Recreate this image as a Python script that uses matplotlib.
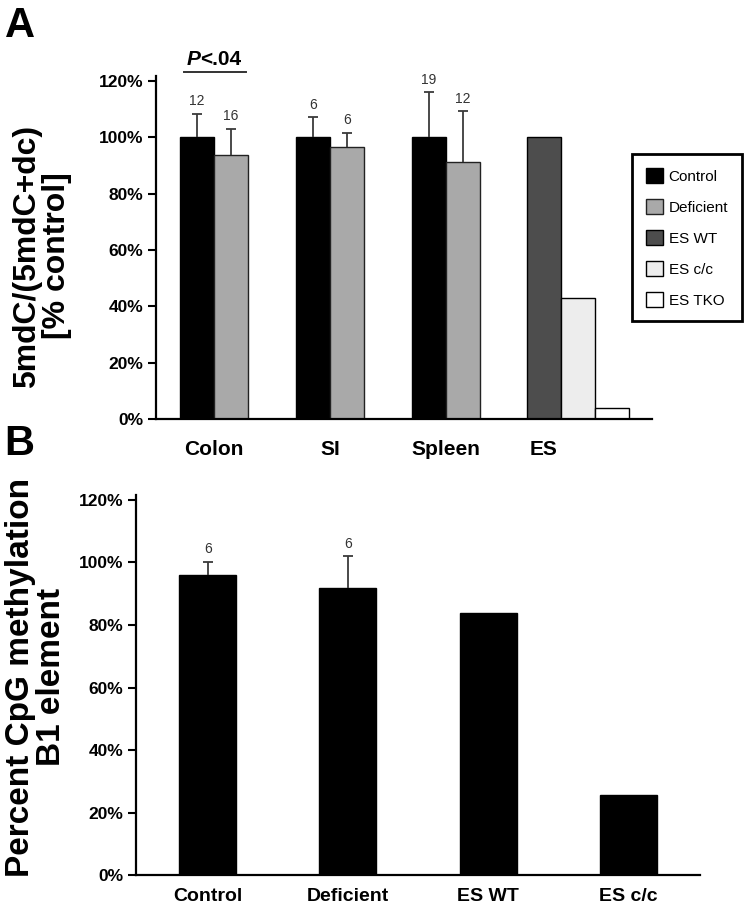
import matplotlib
matplotlib.use('Agg')
import matplotlib.pyplot as plt
import numpy as np

plt.rcParams['font.family'] = ['Liberation Sans', 'DejaVu Sans']

# panel A: global methylation, % of control
tissues = ['Colon', 'SI', 'Spleen']
ctrl_a = [100, 100, 100]
ctrl_a_err = [8.2, 7.1, 16.0]
ctrl_a_n = ['12', '6', '19']
def_a = [93.5, 96.4, 91.2]
def_a_err = [9.4, 5.2, 18.0]
def_a_n = ['16', '6', '12']
es_names = ['ES WT', 'ES c/c', 'ES TKO']
es_a = [100, 43, 3.8]

# panel B: CpG methylation of B1 element
groups_b = ['Control', 'Deficient', 'ES WT', 'ES c/c']
vals_b = [96.0, 92.0, 84.0, 25.5]
err_b = [4.2, 10.0, 0, 0]
n_b = ['6', '6', '', '']

c_ctrl, c_def = '#000000', '#a9a9a9'
es_colors = ['#4d4d4d', '#ededed', '#ffffff']
ecol = '#3a3a3a'

fig = plt.figure(figsize=(7.5, 9.13), dpi=100)

def style(ax, ylim):
    for s in ['top', 'right']:
        ax.spines[s].set_visible(False)
    ax.spines['left'].set_linewidth(1.6)
    ax.spines['bottom'].set_linewidth(1.6)
    ax.set_ylim(0, ylim)
    ax.set_yticks(np.arange(0, 121, 20))
    ax.set_yticklabels(['%d%%' % v for v in range(0, 121, 20)], fontsize=12.5, fontweight='bold')
    ax.tick_params(axis='y', direction='out', length=6, width=1.5, pad=3)

def upper_err(ax, xs, tops, errs, cap):
    xs = np.asarray(xs); tops = np.asarray(tops); errs = np.asarray(errs)
    ax.vlines(xs, tops, tops + errs, color=ecol, lw=1.3)
    ax.hlines(tops + errs, xs - cap, xs + cap, color=ecol, lw=1.3)

# ---- A ----
axA = fig.add_axes([156/750, 1-419/913, 496/750, 343/913])
w = 0.293
x = np.arange(len(tissues))
b1 = axA.bar(x - w/2, ctrl_a, w, color=c_ctrl, edgecolor='black', lw=1, label='Control')
b2 = axA.bar(x + w/2, def_a, w, color=c_def, edgecolor='#222222', lw=1, label='Deficient')
upper_err(axA, x - w/2, ctrl_a, ctrl_a_err, 0.045)
upper_err(axA, x + w/2, def_a, def_a_err, 0.045)
for i in range(3):
    axA.annotate(ctrl_a_n[i], (x[i] - w/2, ctrl_a[i] + ctrl_a_err[i]), xytext=(0, 4), textcoords='offset points',
                 ha='center', va='bottom', fontsize=10, color='#333333')
    axA.annotate(def_a_n[i], (x[i] + w/2, def_a[i] + def_a_err[i]), xytext=(0, 4), textcoords='offset points',
                 ha='center', va='bottom', fontsize=10, color='#333333')
es_x = 2.845 + np.arange(3) * w
es_bars = []
for i in range(3):
    es_bars.append(axA.bar(es_x[i], es_a[i], w, color=es_colors[i], edgecolor='black', lw=1, label=es_names[i]))
axA.set_xlim(-0.5, 3.776)
axA.set_xticks([0, 1, 2, es_x[0]])
axA.set_xticklabels(tissues + ['ES'], fontsize=15, fontweight='bold')
style(axA, 121.7)
axA.tick_params(axis='x', length=0, pad=15)

# significance mark
axA.plot([-0.259, 0.276], [123.1, 123.1], color='#333333', lw=1.4, clip_on=False)
axA.text(-0.12, 125.5, 'P', fontsize=15, fontweight='bold', style='italic', ha='right', va='baseline')
axA.text(-0.12, 125.5, '<.04', fontsize=15, fontweight='bold', ha='left', va='baseline')

fig.text(42/750, 1-256/913, '5mdC/(5mdC+dc)\n[% control]', rotation=90, ha='center', va='center',
         fontsize=23, fontweight='bold', multialignment='center', linespacing=1.0)

leg = fig.legend([b1, b2] + es_bars, ['Control', 'Deficient'] + es_names, loc='upper left',
                 bbox_to_anchor=(632/750, 1-154/913), borderaxespad=0, fontsize=11,
                 handlelength=1.15, handleheight=1.15, labelspacing=1.0, handletextpad=0.35,
                 borderpad=0.9, fancybox=False, framealpha=1)
leg.get_frame().set_edgecolor('black')
leg.get_frame().set_linewidth(2)

# ---- B ----
axB = fig.add_axes([136/750, 1-875/913, 564/750, 380/913])
xb = np.arange(len(groups_b))
wb = 0.407
axB.bar(xb, vals_b, wb, color='black', edgecolor='black')
upper_err(axB, xb[:2], vals_b[:2], err_b[:2], 0.035)
for i in range(2):
    axB.annotate(n_b[i], (xb[i], vals_b[i] + err_b[i]), xytext=(0, 4), textcoords='offset points',
                 ha='center', va='bottom', fontsize=10, color='#333333')
axB.set_xlim(-0.514, 3.514)
axB.set_xticks(xb)
axB.set_xticklabels(groups_b, fontsize=14, fontweight='bold')
style(axB, 121.6)
axB.tick_params(axis='x', length=0, pad=9)

fig.text(36/750, 1-677/913, 'Percent CpG methylation\nB1 element', rotation=90, ha='center', va='center',
         fontsize=24, fontweight='bold', multialignment='center', linespacing=1.0)

fig.text(0.006, 1-6/913, 'A', fontsize=30, fontweight='bold', va='top', ha='left')
fig.text(0.006, 1-424/913, 'B', fontsize=30, fontweight='bold', va='top', ha='left')

fig.savefig('out.png', dpi=100)
